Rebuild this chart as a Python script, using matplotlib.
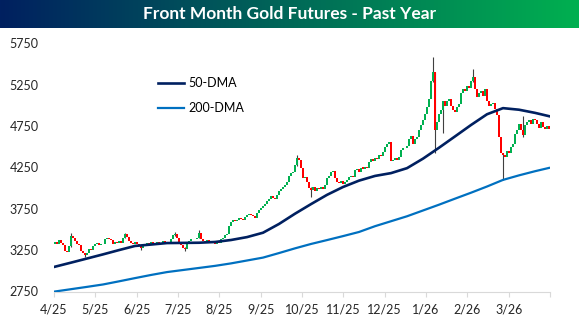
import numpy as np
import matplotlib
matplotlib.use('Agg')
import matplotlib.pyplot as plt
from matplotlib.colors import LinearSegmentedColormap

plt.rcParams['font.family'] = ['Lato', 'DejaVu Sans']

title = 'Front Month Gold Futures - Past Year'
month_labels = ['4/25', '5/25', '6/25', '7/25', '8/25', '9/25',
                '10/25', '11/25', '12/25', '1/26', '2/26', '3/26']
y_ticks = [2750, 3250, 3750, 4250, 4750, 5250, 5750]

# daily closes (one per trading day)
first_open = 3320
closes = [
    3350, 3330, 3370, 3340, 3310, 3240, 3230, 3300, 3420, 3400,
    3360, 3330, 3310, 3240, 3210, 3190, 3220, 3260, 3250,
    3300, 3320, 3340, 3310, 3330, 3320,
    3380, 3400, 3390, 3370, 3330, 3350, 3340, 3360, 3340,
    3400, 3440, 3410, 3360, 3340, 3330, 3350, 3320,
    3300, 3280, 3300, 3330,
    3340, 3330, 3350, 3320, 3340, 3350, 3330, 3340, 3360, 3340, 3330, 3350,
    3390, 3430, 3440, 3400, 3330, 3310, 3280, 3270, 3320,
    3360, 3380, 3390, 3380, 3400, 3460,
    3390, 3360, 3350, 3370, 3340, 3350, 3340, 3330, 3350, 3340,
    3380, 3400, 3430, 3450,
    3540, 3590, 3610, 3600, 3620, 3640, 3630, 3610,
    3650, 3670, 3690, 3680, 3660, 3640,
    3700, 3740, 3760, 3790, 3810, 3840, 3870, 3900, 3880, 3870,
    3920, 3960, 3990, 4010, 4040, 4080, 4150, 4180, 4200,
    4280, 4360, 4340, 4240, 4120,
    4140, 4080, 4000, 3980, 4020, 3970, 4000, 3990, 4010, 3990,
    4040, 4120, 4150, 4190, 4210,
    4120, 4080, 4060, 4090, 4050, 4080, 4100, 4130, 4150, 4140,
    4220, 4230, 4200, 4250, 4230, 4260, 4240,
    4320, 4350, 4330, 4370, 4350, 4400, 4390, 4440,
    4500, 4540, 4560, 4330, 4340, 4370, 4340, 4380,
    4460, 4490, 4480, 4510, 4600, 4630, 4540, 4600,
    4620, 4700, 4760, 4820, 4900, 4980, 5080, 5300, 5400, 4700,
    4800, 4900, 4950, 5050, 5000, 5060, 5080, 5000, 4950, 4920,
    4980, 5020, 5150, 5200, 5180, 5230, 5210, 5300, 5350, 5200, 5100,
    5150, 5180, 5120, 5200, 5050, 5000, 5020, 5030, 4960, 4880,
    4620, 4420, 4400, 4380, 4450, 4420, 4500, 4540,
    4650, 4700, 4780, 4700, 4640, 4760,
    4800, 4820, 4780, 4840, 4830, 4780, 4730, 4800,
    4740, 4720, 4750, 4710,
]

# the longer wicks visible on the chart
wick_idx = [8, 15, 35, 43, 60, 65, 72, 121, 128, 189, 190, 194, 209, 224, 234]
wick_low = [3290, 3170, 3395, 3255, 3420, 3245, 3395, 4270, 3890, 5290, 4425, 4670, 5290, 4100, 4620]
wick_high = [3460, 3215, 3460, 3305, 3470, 3290, 3490, 4400, 4010, 5590, 5410, 5060, 5440, 4430, 4870]

# moving averages sampled every 8 trading days
dma_idx = list(range(0, 241, 8)) + [247]
dma50 = [3050, 3099, 3149, 3199, 3251, 3301, 3318, 3336, 3338, 3340, 3349,
         3373, 3408, 3461, 3567, 3691, 3807, 3919, 4014, 4091, 4148,
         4182, 4242, 4357, 4489, 4626, 4764, 4894, 4968, 4949, 4911, 4871]
dma200 = [2750, 2778, 2806, 2835, 2873, 2912, 2950, 2985, 3010, 3035, 3060,
          3090, 3125, 3160, 3215, 3272, 3325, 3372, 3420, 3470, 3540,
          3600, 3660, 3730, 3800, 3873, 3945, 4020, 4100, 4155, 4205, 4245]

n = len(closes)
step = 12.0 / n
x = (np.arange(n) + 0.5) * step
c = np.array(closes, dtype=float)
o = np.array([first_open] + closes[:-1], dtype=float)
bottoms = np.minimum(o, c)
heights = np.maximum(np.abs(c - o), 8)
colors = np.where(c >= o, '#00B050', '#FF0000')

fig = plt.figure(figsize=(5.79, 3.24), dpi=100)

# title banner with gradient
bar_ax = fig.add_axes([0, 1 - 28 / 324, 1, 28 / 324])
cmap = LinearSegmentedColormap.from_list('banner', ['#002060', '#00B050'])
bar_ax.imshow(np.linspace(0, 1, 256)[None, :], aspect='auto', cmap=cmap, extent=[0, 1, 0, 1])
bar_ax.axis('off')
bar_ax.text(0.5, 0.5, title, color='white', fontweight='bold', fontsize=12.5,
            ha='center', va='center', transform=bar_ax.transAxes)

ax = fig.add_axes([54 / 579, 32.5 / 324, 496 / 579, 248 / 324])
ax.vlines(x[wick_idx], wick_low, wick_high, color='#404040', lw=0.8, zorder=0.5)
ax.bar(x, heights, bottom=bottoms, width=step * 0.85, color=colors, linewidth=0, zorder=1)
ax.plot(x[dma_idx], dma50, color='#002060', lw=1.9, label='50-DMA', zorder=3)
ax.plot(x[dma_idx], dma200, color='#0070C0', lw=1.6, label='200-DMA', zorder=3)

ax.set_xlim(0, 12)
ax.set_ylim(2750, 5750)
ax.set_xticks(range(13))
ax.set_xticklabels(month_labels + [''])
ax.set_yticks(y_ticks)

for s in ['left', 'top', 'right']:
    ax.spines[s].set_visible(False)
ax.spines['bottom'].set_color('#D9D9D9')
ax.tick_params(axis='y', length=0, pad=11, labelsize=9, labelcolor='#262626')
ax.tick_params(axis='x', length=3.6, color='#D9D9D9', pad=5, labelsize=9, labelcolor='#262626')

ax.legend(loc='upper left', bbox_to_anchor=(0.21, 0.863), frameon=False, fontsize=9,
          handlelength=2.1, handletextpad=0.3, labelspacing=1.0, borderpad=0, borderaxespad=0)

fig.savefig('out.png', dpi=100)
